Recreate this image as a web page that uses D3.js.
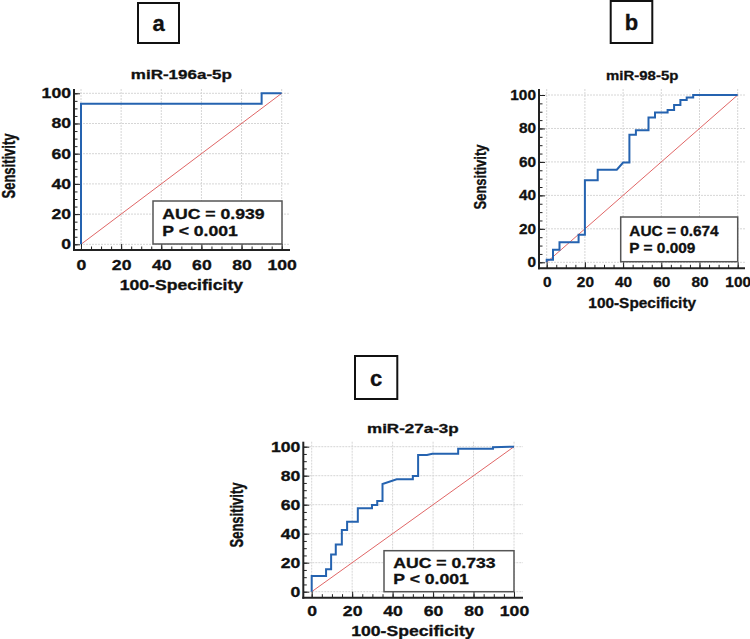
<!DOCTYPE html>
<html>
<head>
<meta charset="utf-8">
<script src="https://cdn.jsdelivr.net/npm/d3@7"></script>
<style>
  body { margin: 0; background: #fff; }
  svg { display: block; }
</style>
</head>
<body>
<script>
// chart data
var panelLetters = ["a", "b", "c"];
var markerNames = ["miR-196a-5p", "miR-98-5p", "miR-27a-3p"];
var aucLabels = ["AUC = 0.939", "AUC = 0.674", "AUC = 0.733"];
var pLabels = ["P < 0.001", "P = 0.009", "P < 0.001"];
var tickValues = [0, 20, 40, 60, 80, 100];
var minorTickValues = [0, 5, 10, 15, 20, 25, 30, 35, 40, 45, 50, 55, 60, 65, 70, 75, 80, 85, 90, 95, 100];

// ROC points: [100-Specificity, Sensitivity]
var rocA = [[0, 0], [0, 93], [90, 93], [90, 100], [100, 100]];
var rocB = [[0, 0], [0, 1.5], [3.3, 1.5], [3.3, 7.5], [6.7, 7.5], [6.7, 12], [16.7, 12], [16.7, 16.5],
    [20, 16.5], [20, 49], [26.7, 49], [26.7, 55.3], [36.7, 55.3], [40, 59.6], [43.3, 59.6], [43.3, 76.2],
    [46.7, 76.2], [46.7, 79], [53.3, 79], [53.3, 86.6], [56.7, 86.6], [56.7, 89.5], [63.3, 89.5], [63.3, 91],
    [66.7, 91], [66.7, 94], [70, 94], [70, 97], [73.3, 97], [73.3, 98.5], [76.7, 98.5], [76.7, 100], [100, 100]];
var rocC = [[0, 0], [0, 10.8], [7.1, 10.8], [7.1, 15.4], [9.6, 15.4], [9.6, 25.7], [11.9, 25.7], [11.9, 32.6],
    [14.9, 32.6], [14.9, 42.5], [17.5, 42.5], [17.5, 48.3], [22.8, 48.3], [22.8, 57.5], [29.8, 57.5],
    [29.8, 59.8], [32.4, 59.8], [32.4, 62.5], [35, 62.5], [35, 74.3], [42, 77.5], [50, 77.5], [50, 79.8],
    [52.6, 79.8], [52.6, 94.3], [57, 94.3], [59.6, 95.2], [72.4, 95.2], [72.4, 98.6], [89.6, 98.6],
    [89.6, 99.6], [100, 100]];
var rocData = [rocA, rocB, rocC];

// layout of each panel (pixel positions)
var panels = [
    { x0: 81, x1: 281.7, y0: 244.3, y1: 93.3, axX: 74, axY: 250, xEnd: 290, yTop: 89, s: 1.26,
      box: [138, 3, 41, 40], titleY: 79.3, xLabY: 290, sens: [9, 166], aucBox: [153, 201, 129, 43],
      aucX: 162.3, aucY: [219.3, 236], xPad: 10 },
    { x0: 546.7, x1: 737.7, y0: 262.3, y1: 95, axX: 539, axY: 268.3, xEnd: 745, yTop: 89, s: 1.1,
      box: [610.7, 1, 41.6, 42], titleY: 80, xLabY: 308, sens: [481, 177], aucBox: [620.7, 217, 117, 44.7],
      aucX: 629.3, aucY: [236, 253.3], xPad: 9 },
    { x0: 311.7, x1: 514, y0: 591.7, y1: 446.7, axX: 303.3, axY: 597.7, xEnd: 523, yTop: 441.7, s: 1.26,
      box: [355, 356, 42.3, 43], titleY: 433, xLabY: 636, sens: [237, 515], aucBox: [384, 550.7, 130, 41],
      aucX: 393.3, aucY: [567.7, 584], xPad: 8 }
];

var svgW = 750;
var svgH = 639;
var font = "'Liberation Sans', Arial, Helvetica, sans-serif";

var svg = d3.select("body")
    .append("svg")
    .attr("width", svgW)
    .attr("height", svgH);

function boldText(g, txt, x, y, size, sx, anchor) {
    return g.append("text")
        .attr("transform", "translate(" + x + "," + y + ") scale(" + sx + ",1)")
        .attr("text-anchor", anchor || "middle")
        .attr("font-family", font)
        .attr("font-weight", "bold")
        .attr("font-size", size)
        .attr("fill", "#111")
        .attr("stroke", "#111")
        .attr("stroke-width", 0.3)
        .text(txt);
}

panels.forEach(function(p, i) {
    var g = svg.append("g");

    var xScale = d3.scaleLinear().domain([0, 100]).range([p.x0, p.x1]);
    var yScale = d3.scaleLinear().domain([0, 100]).range([p.y0, p.y1]);

    // grid
    g.append("g").selectAll("line")
        .data(tickValues)
        .join("line")
        .attr("x1", p.axX).attr("x2", p.xEnd)
        .attr("y1", function(d) { return yScale(d); })
        .attr("y2", function(d) { return yScale(d); })
        .attr("stroke", "#d6d6d6")
        .attr("stroke-dasharray", "2,1");
    g.append("g").selectAll("line")
        .data(tickValues)
        .join("line")
        .attr("y1", p.yTop).attr("y2", p.axY)
        .attr("x1", function(d) { return xScale(d); })
        .attr("x2", function(d) { return xScale(d); })
        .attr("stroke", "#d6d6d6")
        .attr("stroke-dasharray", "2,1");

    // reference diagonal
    g.append("line")
        .attr("x1", xScale(0)).attr("y1", yScale(0))
        .attr("x2", xScale(100)).attr("y2", yScale(100))
        .attr("stroke", "#e06666")
        .attr("stroke-width", 1);

    // ROC curve
    var line = d3.line()
        .x(function(d) { return xScale(d[0]); })
        .y(function(d) { return yScale(d[1]); });
    g.append("path")
        .datum(rocData[i])
        .attr("d", line)
        .attr("fill", "none")
        .attr("stroke", "#2563b0")
        .attr("stroke-width", 2);

    // minor ticks
    g.append("g")
        .attr("transform", "translate(" + p.axX + ",0)")
        .call(d3.axisLeft(yScale).tickValues(minorTickValues).tickSize(-3.5).tickFormat(""))
        .call(function(a) { a.select(".domain").remove(); })
        .selectAll("line").attr("stroke", "#222");
    g.append("g")
        .attr("transform", "translate(0," + p.axY + ")")
        .call(d3.axisBottom(xScale).tickValues(minorTickValues).tickSize(-3.5).tickFormat(""))
        .call(function(a) { a.select(".domain").remove(); })
        .selectAll("line").attr("stroke", "#222");

    // major ticks + labels
    var yG = g.append("g")
        .attr("transform", "translate(" + p.axX + ",0)")
        .call(d3.axisLeft(yScale).tickValues(tickValues).tickSize(-6).tickPadding(3));
    yG.select(".domain").remove();
    yG.selectAll("line").attr("stroke", "#222");
    yG.attr("font-family", font).attr("font-size", 14).attr("font-weight", "bold");
    yG.selectAll("text")
        .attr("x", 0)
        .attr("fill", "#111")
        .attr("stroke", "#111")
        .attr("stroke-width", 0.3)
        .attr("transform", "translate(-3,0) scale(" + p.s + ",1)");

    var xG = g.append("g")
        .attr("transform", "translate(0," + p.axY + ")")
        .call(d3.axisBottom(xScale).tickValues(tickValues).tickSize(-6).tickPadding(p.xPad));
    xG.select(".domain").remove();
    xG.selectAll("line").attr("stroke", "#222");
    xG.attr("font-family", font).attr("font-size", 14).attr("font-weight", "bold");
    xG.selectAll("text")
        .attr("y", 0)
        .attr("fill", "#111")
        .attr("stroke", "#111")
        .attr("stroke-width", 0.3)
        .attr("transform", "translate(0," + p.xPad + ") scale(" + p.s + ",1)");

    // axis lines
    g.append("line")
        .attr("x1", p.axX).attr("x2", p.axX)
        .attr("y1", p.yTop).attr("y2", p.axY + 1)
        .attr("stroke", "#222").attr("stroke-width", 2);
    g.append("line")
        .attr("x1", p.axX - 1).attr("x2", p.xEnd)
        .attr("y1", p.axY).attr("y2", p.axY)
        .attr("stroke", "#222").attr("stroke-width", 2);

    // titles
    boldText(g, markerNames[i], (p.x0 + p.x1) / 2, p.titleY, 13, p.s + 0.05);
    boldText(g, "100-Specificity", (p.x0 + p.x1) / 2, p.xLabY, 14, p.s);
    g.append("text")
        .attr("transform", "translate(" + p.sens[0] + "," + p.sens[1] + ") scale(" + (p.s + 0.1) + ",1) rotate(-90)")
        .attr("text-anchor", "middle")
        .attr("dy", "0.35em")
        .attr("font-family", font)
        .attr("font-weight", "bold")
        .attr("font-size", 13)
        .attr("fill", "#111")
        .attr("stroke", "#111")
        .attr("stroke-width", 0.3)
        .text("Sensitivity");

    // AUC box
    g.append("rect")
        .attr("x", p.aucBox[0]).attr("y", p.aucBox[1])
        .attr("width", p.aucBox[2]).attr("height", p.aucBox[3])
        .attr("fill", "#fff")
        .attr("stroke", "#555")
        .attr("stroke-width", 1.5);
    boldText(g, aucLabels[i], p.aucX, p.aucY[0], 14, p.s, "start");
    boldText(g, pLabels[i], p.aucX, p.aucY[1], 14, p.s, "start");

    // panel letter box
    g.append("rect")
        .attr("x", p.box[0]).attr("y", p.box[1])
        .attr("width", p.box[2]).attr("height", p.box[3])
        .attr("fill", "#fff")
        .attr("stroke", "#111")
        .attr("stroke-width", 2);
    boldText(g, panelLetters[i], p.box[0] + p.box[2] / 2, p.box[1] + p.box[3] / 2 + 8, 22, 1);
});
</script>
</body>
</html>
